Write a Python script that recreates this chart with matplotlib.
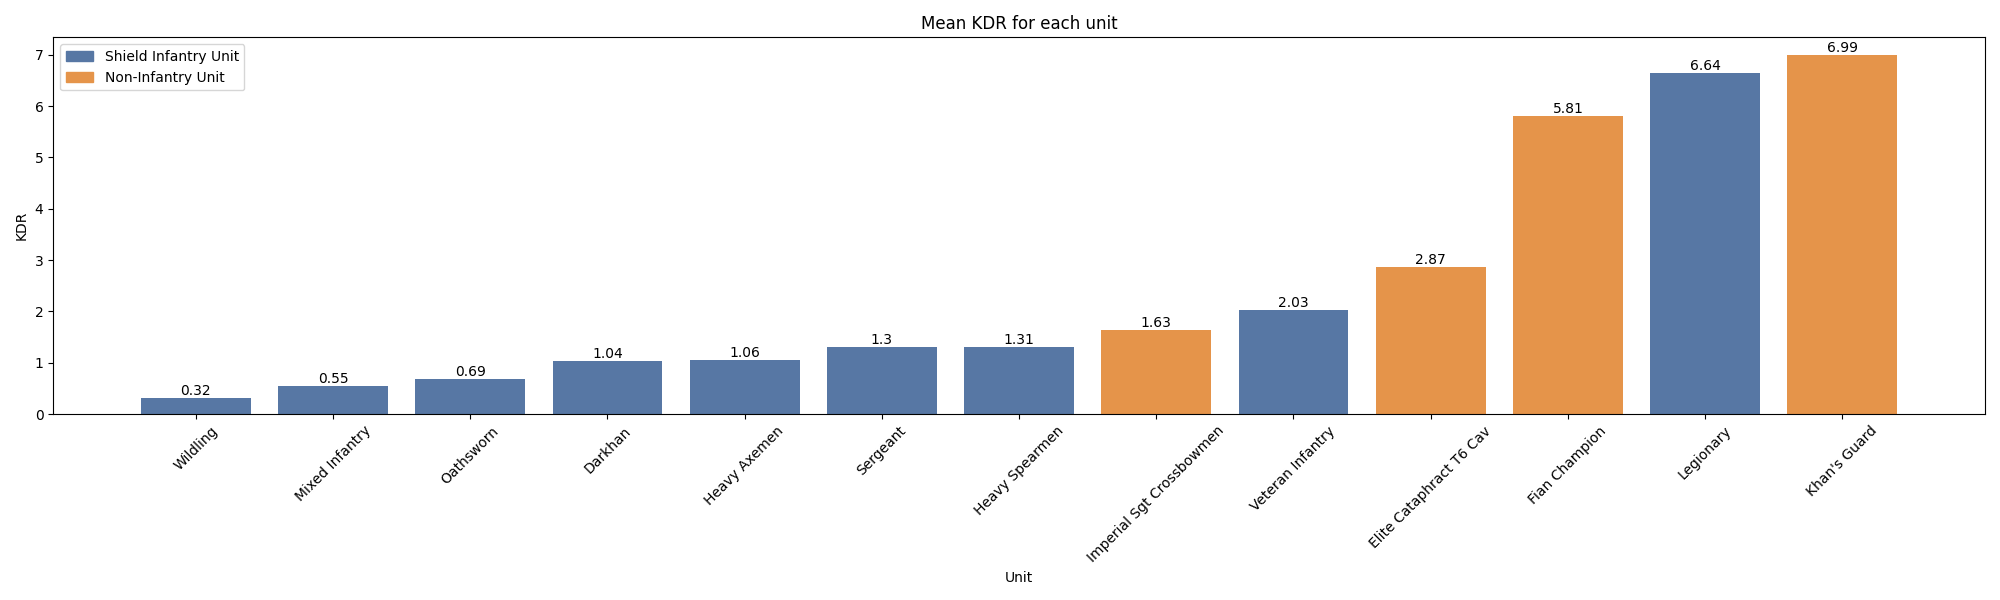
import matplotlib
matplotlib.use("Agg")
import matplotlib.pyplot as plt
from matplotlib.patches import Patch

units = ["Wildling", "Mixed Infantry", "Oathsworn", "Darkhan", "Heavy Axemen",
         "Sergeant", "Heavy Spearmen", "Imperial Sgt Crossbowmen", "Veteran Infantry",
         "Elite Cataphract T6 Cav", "Fian Champion", "Legionary", "Khan's Guard"]
kdr = [0.32, 0.55, 0.69, 1.04, 1.06, 1.3, 1.31, 1.63, 2.03, 2.87, 5.81, 6.64, 6.99]
unit_type = ["Shield", "Shield", "Shield", "Shield", "Shield", "Shield", "Shield",
             "Non", "Shield", "Non", "Non", "Shield", "Non"]
legend_labels = ["Shield Infantry Unit", "Non-Infantry Unit"]

blue = "#5777A4"
orange = "#E5944A"
colors = [blue if t == "Shield" else orange for t in unit_type]

fig, ax = plt.subplots(figsize=(20, 6), dpi=100)
bars = ax.bar(units, kdr, color=colors, width=0.8)
ax.bar_label(bars, labels=[str(v) for v in kdr])
ax.set_title("Mean KDR for each unit")
ax.set_xlabel("Unit")
ax.set_ylabel("KDR")
plt.setp(ax.get_xticklabels(), rotation=45)
ax.legend(handles=[Patch(color=blue, label=legend_labels[0]),
                   Patch(color=orange, label=legend_labels[1])], loc="upper left")
fig.tight_layout()
fig.savefig("out.png")
